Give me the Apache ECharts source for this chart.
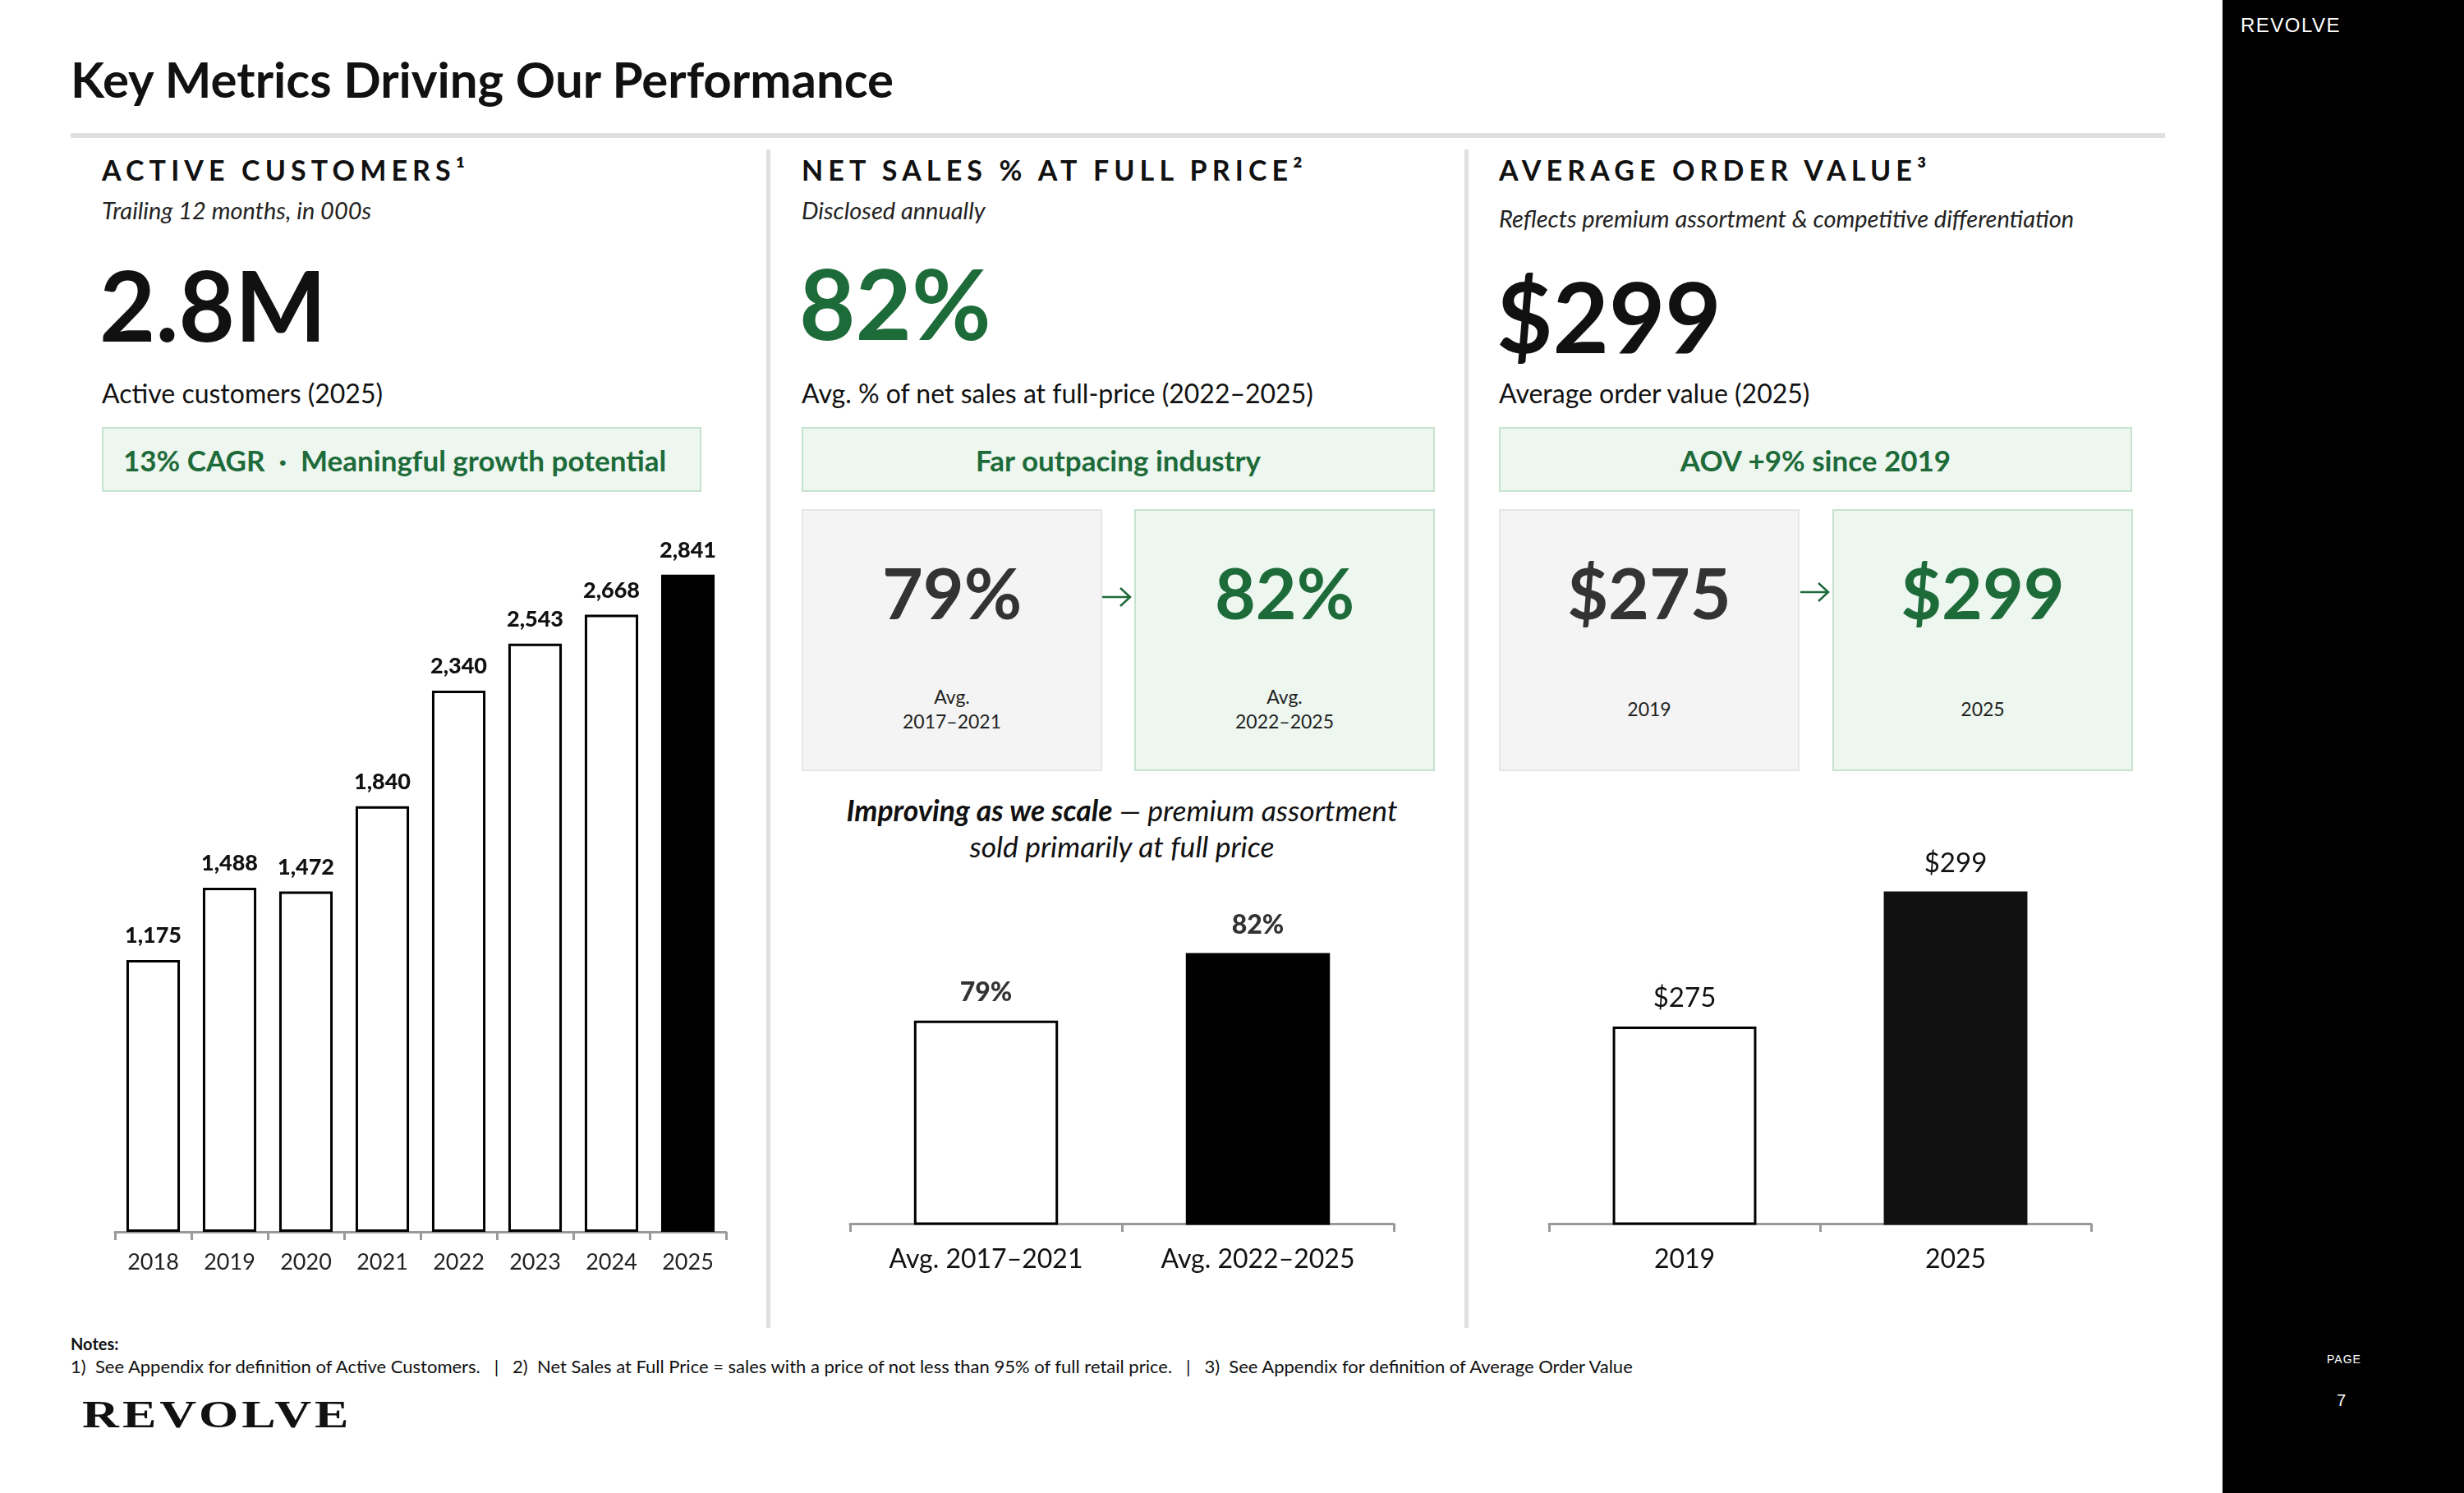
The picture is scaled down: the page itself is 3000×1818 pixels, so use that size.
<!DOCTYPE html>
<html>
<head>
<meta charset="utf-8">
<script src="https://cdn.jsdelivr.net/npm/echarts@6/dist/echarts.min.js"></script>
<style>
  body { margin: 0; }
  #slide { position: relative; width: 3000px; height: 1818px; background: #fff; overflow: hidden; font-family: Lato, 'Open Sans', sans-serif; color: #111; }
  .t { position: absolute; line-height: 1; white-space: nowrap; }
  .head { font-size: 34px; font-weight: 700; letter-spacing: 0.18em; }
  .sub { font-size: 29px; font-style: italic; color: #222; }
  .kpi { font-size: 118px; font-weight: 700; }
  .desc { font-size: 32px; color: #111; }
  .pill { position: absolute; top: 520px; height: 79px; box-sizing: border-box; background: #edf6ef; border: 2px solid #c6e3cf;
          display: flex; align-items: center; font-size: 35px; font-weight: 700; color: #1e6b3a; }
  .card { position: absolute; top: 620px; height: 319px; width: 366px; box-sizing: border-box; text-align: center; }
  .card.gray { background: #f4f4f4; border: 2px solid #e6e6e6; }
  .card.green { background: #edf6ef; border: 2px solid #c6e3cf; }
  .card .num { position: absolute; left: 0; right: 0; top: 56px; font-size: 86px; font-weight: 700; line-height: 1; }
  .card .cap { position: absolute; left: 0; right: 0; font-size: 23px; line-height: 1; color: #222; }
  .arrow { position: absolute; width: 40px; height: 30px; }
  .chart { position: absolute; }
  .vline { position: absolute; top: 182px; height: 1435px; width: 5px; background: #e0e0e0; }
</style>
</head>
<body>
<div id="slide">
  <div class="t" style="left:86px;top:66px;font-size:60px;font-weight:700;">Key Metrics Driving Our Performance</div>
  <div style="position:absolute;left:86px;top:162px;width:2550px;height:6px;background:#e0e0e0;"></div>
  <div class="vline" style="left:933px;"></div>
  <div class="vline" style="left:1783px;"></div>

  <!-- active customers -->
  <div class="t head" style="left:124px;top:190px;">ACTIVE CUSTOMERS¹</div>
  <div class="t sub" style="left:124px;top:241px;">Trailing 12 months, in 000s</div>
  <div class="t kpi" style="left:121px;top:312px;">2.8M</div>
  <div class="t desc" style="left:124px;top:463px;">Active customers (2025)</div>
  <div class="pill" style="left:124px;width:730px;padding-left:24px;">13% CAGR&nbsp;&nbsp;·&nbsp;&nbsp;Meaningful growth potential</div>
  <div id="chartAC" class="chart" style="left:100px;top:600px;width:820px;height:980px;"></div>

  <!-- full price -->
  <div class="t head" style="left:976px;top:190px;">NET SALES % AT FULL PRICE²</div>
  <div class="t sub" style="left:976px;top:241px;">Disclosed annually</div>
  <div class="t kpi" style="left:973px;top:310px;color:#1e6b3a;">82%</div>
  <div class="t desc" style="left:976px;top:463px;">Avg. % of net sales at full-price (2022–2025)</div>
  <div class="pill" style="left:976px;width:771px;justify-content:center;">Far outpacing industry</div>
  <div class="card gray" style="left:976px;">
    <div class="num" style="color:#333;">79%</div>
    <div class="cap" style="top:215px;">Avg.</div>
    <div class="cap" style="top:245px;">2017–2021</div>
  </div>
  <svg class="arrow" style="left:1340px;top:712px;" viewBox="0 0 40 30"><path d="M2 15 H36 M24 4 L36 15 L24 26" fill="none" stroke="#1e6b3a" stroke-width="2.5"/></svg>
  <div class="card green" style="left:1381px;">
    <div class="num" style="color:#1e6b3a;">82%</div>
    <div class="cap" style="top:215px;">Avg.</div>
    <div class="cap" style="top:245px;">2022–2025</div>
  </div>
  <div class="t" style="left:1366px;top:965px;transform:translateX(-50%);text-align:center;font-size:35.5px;line-height:44px;font-style:italic;color:#111;">
    <b>Improving as we scale</b> — premium assortment<br>sold primarily at full price</div>
  <div id="chartFP" class="chart" style="left:980px;top:1060px;width:770px;height:520px;"></div>

  <!-- AOV -->
  <div class="t head" style="left:1825px;top:190px;">AVERAGE ORDER VALUE³</div>
  <div class="t sub" style="left:1825px;top:251px;">Reflects premium assortment &amp; competitive differentiation</div>
  <div class="t kpi" style="left:1822px;top:326px;">$299</div>
  <div class="t desc" style="left:1825px;top:463px;">Average order value (2025)</div>
  <div class="pill" style="left:1825px;width:771px;justify-content:center;">AOV +9% since 2019</div>
  <div class="card gray" style="left:1825px;">
    <div class="num" style="color:#333;">$275</div>
    <div class="cap" style="top:230px;">2019</div>
  </div>
  <svg class="arrow" style="left:2190px;top:706px;" viewBox="0 0 40 30"><path d="M2 15 H36 M24 4 L36 15 L24 26" fill="none" stroke="#1e6b3a" stroke-width="2.5"/></svg>
  <div class="card green" style="left:2231px;">
    <div class="num" style="color:#1e6b3a;">$299</div>
    <div class="cap" style="top:230px;">2025</div>
  </div>
  <div id="chartAOV" class="chart" style="left:1840px;top:960px;width:760px;height:620px;"></div>

  <!-- notes -->
  <div class="t" style="left:86px;top:1626px;font-size:20px;font-weight:700;">Notes:</div>
  <div class="t" style="left:86px;top:1653px;font-size:22px;color:#111;white-space:pre;">1)  See Appendix for definition of Active Customers.   |   2)  Net Sales at Full Price = sales with a price of not less than 95% of full retail price.   |   3)  See Appendix for definition of Average Order Value</div>
  <div class="t" style="left:100px;top:1700px;font-size:46px;font-family:'Liberation Serif',serif;font-weight:700;letter-spacing:3px;transform:scaleX(1.35);transform-origin:left center;">REVOLVE</div>

  <!-- side panel -->
  <div style="position:absolute;left:2706px;top:0;width:294px;height:1818px;background:#000;"></div>
  <div class="t" style="left:2728px;top:19px;font-size:24px;font-family:'Liberation Sans',sans-serif;color:#fff;letter-spacing:1.5px;">REVOLVE</div>
  <div class="t" style="left:2833px;top:1648px;font-size:14px;font-family:'Liberation Sans',sans-serif;color:#fff;letter-spacing:1px;">PAGE</div>
  <div class="t" style="left:2845px;top:1695px;font-size:20px;font-family:'Liberation Sans',sans-serif;color:#fff;">7</div>
</div>

<script>
// active customers, trailing 12 months (000s)
const acYears = ['2018', '2019', '2020', '2021', '2022', '2023', '2024', '2025'];
const acValues = [1175, 1488, 1472, 1840, 2340, 2543, 2668, 2841];
// net sales % at full price
const fpCats = ['Avg. 2017–2021', 'Avg. 2022–2025'];
const fpValues = [79, 82];
// average order value
const aovCats = ['2019', '2025'];
const aovValues = [275, 299];

const FONT = 'Lato';

//axis style shared by the three charts
function xAxisOf(cats, size, margin, color) {
    return {
        type: 'category', data: cats,
        axisLine: { lineStyle: { color: '#9a9a9a', width: 3 } },
        axisTick: { show: true, length: 10, lineStyle: { color: '#9a9a9a', width: 3 } },
        axisLabel: { fontFamily: FONT, fontSize: size, color: color, margin: margin }
    };
}

//last bar filled, others outlined
function barData(values, fill) {
    return values.map((v, i) => ({
        value: v,
        itemStyle: i === values.length - 1
            ? { color: fill, borderColor: fill, borderWidth: 3 }
            : { color: '#fff', borderColor: '#000', borderWidth: 3 }
    }));
}

const acChart = echarts.init(document.getElementById('chartAC'));
acChart.setOption({
    animation: false,
    grid: { left: 40, right: 36, top: 55, bottom: 80 },
    xAxis: xAxisOf(acYears, 27, 24, '#222'),
    yAxis: { type: 'value', show: false, min: 0, max: 3000 },
    series: [{
        type: 'bar', barCategoryGap: '30%', data: barData(acValues, '#000'),
        label: { show: true, position: 'top', distance: 16, fontFamily: FONT, fontSize: 27, fontWeight: 900, color: '#111',
                 formatter: p => p.value.toLocaleString('en-US') }
    }]
});

const fpChart = echarts.init(document.getElementById('chartFP'));
fpChart.setOption({
    animation: false,
    grid: { left: 55, right: 53, top: 18, bottom: 90 },
    xAxis: xAxisOf(fpCats, 32, 28, '#111'),
    yAxis: { type: 'value', show: false, min: 70, max: 85 },
    series: [{
        type: 'bar', barWidth: '53%', data: barData(fpValues, '#000'),
        label: { show: true, position: 'top', distance: 18, fontFamily: FONT, fontSize: 32, fontWeight: 900, color: '#333',
                 formatter: '{c}%' }
    }]
});

const aovChart = echarts.init(document.getElementById('chartAOV'));
aovChart.setOption({
    animation: false,
    grid: { left: 46, right: 54, top: 50, bottom: 90 },
    xAxis: xAxisOf(aovCats, 32, 28, '#111'),
    yAxis: { type: 'value', show: false, min: 240, max: 310 },
    series: [{
        type: 'bar', barWidth: '53%', data: barData(aovValues, '#111'),
        label: { show: true, position: 'top', distance: 18, fontFamily: FONT, fontSize: 33, color: '#111',
                 formatter: '${c}' }
    }]
});
</script>
</body>
</html>
